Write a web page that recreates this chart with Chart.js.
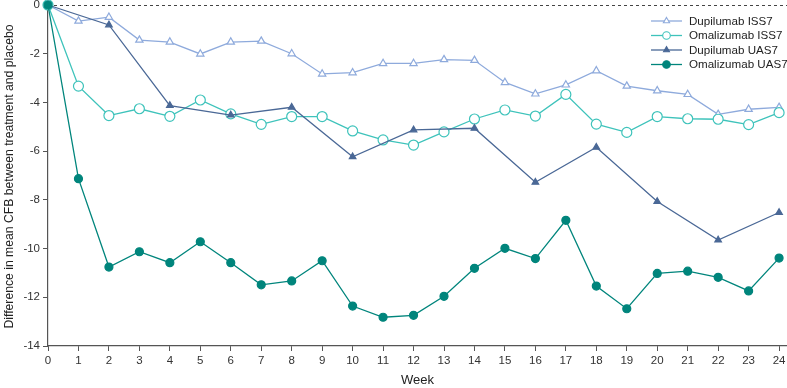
<!DOCTYPE html>
<html>
<head>
<meta charset="utf-8">
<script src="https://cdn.jsdelivr.net/npm/chart.js@4/dist/chart.umd.min.js"></script>
<style>
  html, body { margin: 0; padding: 0; background: #fff; }
  #wrap { width: 787px; height: 388px; position: relative; }
</style>
</head>
<body>
<div id="wrap"><canvas id="cfbChart"></canvas></div>
<script>
// ---- data ----
const weeks = [0, 1, 2, 3, 4, 5, 6, 7, 8, 9, 10, 11, 12, 13, 14, 15, 16, 17, 18, 19, 20, 21, 22, 23, 24];

const dupilumabISS7 = [0, -0.66, -0.5, -1.44, -1.52, -2.01, -1.52, -1.48, -2.0, -2.83, -2.78, -2.4, -2.4,
    -2.24, -2.27, -3.18, -3.65, -3.28, -2.7, -3.33, -3.52, -3.67, -4.49, -4.28, -4.2];
const omalizumabISS7 = [0, -3.33, -4.54, -4.26, -4.57, -3.9, -4.47, -4.9, -4.58, -4.58, -5.17, -5.54, -5.75,
    -5.21, -4.68, -4.31, -4.56, -3.67, -4.89, -5.23, -4.58, -4.67, -4.69, -4.91, -4.42];
const dupilumabUAS7 = [0, null, -0.82, null, -4.13, null, -4.52, null, -4.2, null, -6.23, null, -5.13,
    null, -5.06, null, -7.28, null, -5.84, null, -8.07, null, -9.65, null, -8.52];
const omalizumabUAS7 = [0, -7.13, -10.76, -10.13, -10.58, -9.72, -10.58, -11.49, -11.33, -10.5, -12.36, -12.82, -12.74,
    -11.96, -10.81, -9.99, -10.41, -8.84, -11.54, -12.47, -11.02, -10.93, -11.18, -11.74, -10.39];

const yTicks = [0, -2, -4, -6, -8, -10, -12, -14];

const seriesNames = ['Dupilumab ISS7', 'Omalizumab ISS7', 'Dupilumab UAS7', 'Omalizumab UAS7'];
const yTitle = 'Difference in mean CFB between treatment and placebo';

// ---- styling ----
const FONT = "'Liberation Sans', Arial, sans-serif";
Chart.defaults.font.family = FONT;
Chart.defaults.color = '#333';

const AXIS = '#555';

function toPoints(values) {
    return weeks.map((w, i) => ({ x: w, y: values[i] }));
}

const styles = [
    { color: '#8eaadc', fill: '#ffffff', pointStyle: 'triangle', radius: 4.2, legendRadius: 3.6, width: 1.3 },
    { color: '#3ec3bb', fill: '#ffffff', pointStyle: 'circle', radius: 5, legendRadius: 3.8, width: 1.3 },
    { color: '#4a6896', fill: '#4a6896', pointStyle: 'triangle', radius: 3.8, legendRadius: 3.4, width: 1.3 },
    { color: '#00857c', fill: '#00857c', pointStyle: 'circle', radius: 4, legendRadius: 3.8, width: 1.3 }
];

const seriesValues = [dupilumabISS7, omalizumabISS7, dupilumabUAS7, omalizumabUAS7];

const datasets = seriesValues.map((vals, i) => ({
    label: seriesNames[i],
    data: toPoints(vals),
    borderColor: styles[i].color,
    backgroundColor: styles[i].fill,
    borderWidth: styles[i].width,
    pointStyle: styles[i].pointStyle,
    pointRadius: styles[i].radius,
    pointBorderWidth: 1.2,
    pointBorderColor: styles[i].color,
    pointBackgroundColor: styles[i].fill,
    spanGaps: true,
    tension: 0,
    clip: false
}));
// filled series drawn on top, like the reference
datasets.reverse();

// dashed zero line across the plot
const zeroLine = {
    id: 'zeroLine',
    beforeDatasetsDraw(chart) {
        const { ctx, chartArea, scales } = chart;
        const y = Math.round(scales.y.getPixelForValue(0)) + 0.5;
        ctx.save();
        ctx.strokeStyle = '#444';
        ctx.lineWidth = 1;
        ctx.setLineDash([3, 3]);
        ctx.beginPath();
        ctx.moveTo(chartArea.left, y);
        ctx.lineTo(chartArea.right, y);
        ctx.stroke();
        ctx.restore();
    }
};

// rotated y title, centred on the plot height
const yTitlePlugin = {
    id: 'yTitlePlugin',
    afterDraw(chart) {
        const { ctx, chartArea } = chart;
        ctx.save();
        ctx.translate(10, (chartArea.top + chartArea.bottom) / 2 + 1);
        ctx.rotate(-Math.PI / 2);
        ctx.fillStyle = '#222';
        ctx.font = '12.2px ' + FONT;
        ctx.textAlign = 'center';
        ctx.textBaseline = 'middle';
        ctx.fillText(yTitle, 0, 0);
        ctx.restore();
    }
};

// legend: short line with the marker in the middle, top right
const lineLegend = {
    id: 'lineLegend',
    afterDraw(chart) {
        const { ctx } = chart;
        const x0 = 651, x1 = 682, tx = 689;
        const rows = [21, 35.5, 50, 64.5];
        ctx.save();
        seriesNames.forEach((name, i) => {
            const s = styles[i];
            const y = rows[i];
            ctx.strokeStyle = s.color;
            ctx.lineWidth = s.width;
            ctx.beginPath();
            ctx.moveTo(x0, y);
            ctx.lineTo(x1, y);
            ctx.stroke();
            ctx.fillStyle = s.fill;
            ctx.lineWidth = 1.1;
            Chart.helpers.drawPoint(ctx, { pointStyle: s.pointStyle, radius: s.legendRadius, borderWidth: 1.1 }, (x0 + x1) / 2, y);
            ctx.fillStyle = '#222';
            ctx.font = '11.6px ' + FONT;
            ctx.textBaseline = 'middle';
            ctx.fillText(name, tx, y + 0.5);
        });
        ctx.restore();
    }
};

const ctx = document.getElementById('cfbChart').getContext('2d');
new Chart(ctx, {
    type: 'line',
    data: { datasets },
    options: {
        responsive: true,
        maintainAspectRatio: false,
        animation: false,
        layout: { autoPadding: false, padding: { top: 5, left: 0, right: 0, bottom: 0 } },
        plugins: {
            legend: { display: false },
            tooltip: { enabled: false }
        },
        scales: {
            x: {
                type: 'linear',
                min: 0,
                max: 24.26,
                afterBuildTicks(scale) {
                    scale.ticks = weeks.map(w => ({ value: w }));
                },
                afterFit(scale) {
                    scale.height = 42;
                    scale.paddingLeft = 0;
                    scale.paddingRight = 0;
                },
                grid: {
                    display: true,
                    drawOnChartArea: false,
                    drawTicks: true,
                    tickLength: 5,
                    color: AXIS
                },
                border: { display: true, color: AXIS, width: 1.2 },
                ticks: {
                    color: '#333',
                    font: { size: 11.5 },
                    padding: 3,
                    maxRotation: 0,
                    autoSkip: false
                },
                title: {
                    display: true,
                    text: 'Week',
                    color: '#222',
                    font: { size: 13 },
                    padding: { top: 4, bottom: 0 }
                }
            },
            y: {
                min: -14,
                max: 0,
                afterBuildTicks(scale) {
                    scale.ticks = yTicks.map(v => ({ value: v }));
                },
                afterFit(scale) {
                    scale.width = 48;
                    scale.paddingTop = 0;
                    scale.paddingBottom = 0;
                },
                grid: {
                    display: true,
                    drawOnChartArea: false,
                    drawTicks: true,
                    tickLength: 5,
                    color: AXIS
                },
                border: { display: true, color: AXIS, width: 1.2 },
                ticks: {
                    color: '#333',
                    font: { size: 11.5 },
                    padding: 3
                },
                title: { display: false }
            }
        }
    },
    plugins: [zeroLine, yTitlePlugin, lineLegend]
});
</script>
</body>
</html>
